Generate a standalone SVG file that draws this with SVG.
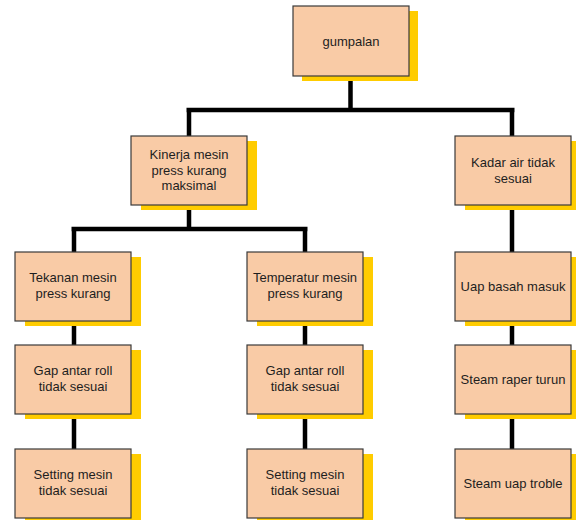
<svg xmlns="http://www.w3.org/2000/svg" width="576" height="520" viewBox="0 0 576 520">
<defs>
<style>
.shadow{fill:#FFCC00;}
.box{fill:#F9CBA6;stroke:#3a3a3a;stroke-width:1.2;}
.lbl{font-family:"Liberation Sans",Arial,sans-serif;font-size:13px;fill:#1e1e1e;text-anchor:middle;}
.conn{stroke:#000;stroke-width:4.5;fill:none;stroke-linecap:butt;}
</style>
</defs>
<rect width="576" height="520" fill="#fff"/>
<g id="connectors">
<path class="conn" d="M350.5 76 V110 M186.5 110 H514.5 M189 110 V136 M512 110 V136"/>
<path class="conn" d="M189 205 V229 M71.5 229 H307.5 M74 229 V252 M305 229 V252"/>
<path class="conn" d="M74 321 V345 M74 414 V449 M305 321 V345 M305 414 V449"/>
<path class="conn" d="M512 205 V252 M512 321 V345 M512 414 V449"/>
</g>
<g id="n-gumpalan">
<rect class="shadow" x="302" y="11" width="116" height="70"/>
<rect class="box" x="293" y="6" width="116" height="70"/>
<text class="lbl" x="351" y="46">gumpalan</text>
</g>
<g id="n-kinerja">
<rect class="shadow" x="141" y="141" width="116" height="69"/>
<rect class="box" x="131" y="136" width="116" height="69"/>
<text class="lbl" x="189" y="159">Kinerja mesin</text>
<text class="lbl" x="189" y="174.5">press kurang</text>
<text class="lbl" x="189" y="190">maksimal</text>
</g>
<g id="n-kadar">
<rect class="shadow" x="465" y="141" width="116" height="69"/>
<rect class="box" x="455" y="136" width="116" height="69"/>
<text class="lbl" x="513" y="167">Kadar air tidak</text>
<text class="lbl" x="513" y="183">sesuai</text>
</g>
<g id="n-tekanan">
<rect class="shadow" x="25" y="257" width="116" height="69"/>
<rect class="box" x="15" y="252" width="116" height="69"/>
<text class="lbl" x="73" y="282">Tekanan mesin</text>
<text class="lbl" x="73" y="298">press kurang</text>
</g>
<g id="n-temperatur">
<rect class="shadow" x="257" y="257" width="116" height="69"/>
<rect class="box" x="247" y="252" width="116" height="69"/>
<text class="lbl" x="305" y="282">Temperatur mesin</text>
<text class="lbl" x="305" y="298">press kurang</text>
</g>
<g id="n-uapbasah">
<rect class="shadow" x="465" y="257" width="116" height="69"/>
<rect class="box" x="455" y="252" width="116" height="69"/>
<text class="lbl" x="513" y="291">Uap basah masuk</text>
</g>
<g id="n-gap1">
<rect class="shadow" x="25" y="350" width="116" height="69"/>
<rect class="box" x="15" y="345" width="116" height="69"/>
<text class="lbl" x="73" y="375">Gap antar roll</text>
<text class="lbl" x="73" y="391">tidak sesuai</text>
</g>
<g id="n-gap2">
<rect class="shadow" x="257" y="350" width="116" height="69"/>
<rect class="box" x="247" y="345" width="116" height="69"/>
<text class="lbl" x="305" y="375">Gap antar roll</text>
<text class="lbl" x="305" y="391">tidak sesuai</text>
</g>
<g id="n-steamraper">
<rect class="shadow" x="465" y="350" width="116" height="69"/>
<rect class="box" x="455" y="345" width="116" height="69"/>
<text class="lbl" x="513" y="384">Steam raper turun</text>
</g>
<g id="n-setting1">
<rect class="shadow" x="25" y="454" width="116" height="69"/>
<rect class="box" x="15" y="449" width="116" height="69"/>
<text class="lbl" x="73" y="479">Setting mesin</text>
<text class="lbl" x="73" y="495">tidak sesuai</text>
</g>
<g id="n-setting2">
<rect class="shadow" x="257" y="454" width="116" height="69"/>
<rect class="box" x="247" y="449" width="116" height="69"/>
<text class="lbl" x="305" y="479">Setting mesin</text>
<text class="lbl" x="305" y="495">tidak sesuai</text>
</g>
<g id="n-steamuap">
<rect class="shadow" x="465" y="454" width="116" height="69"/>
<rect class="box" x="455" y="449" width="116" height="69"/>
<text class="lbl" x="513" y="488">Steam uap troble</text>
</g>
</svg>
